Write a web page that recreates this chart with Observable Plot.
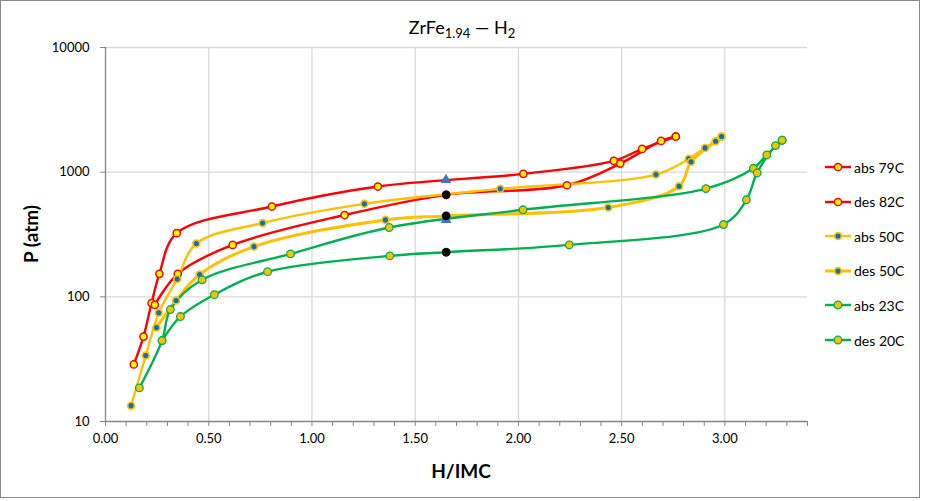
<!DOCTYPE html>
<html><head><meta charset="utf-8">
<script src="https://cdn.jsdelivr.net/npm/d3@7"></script>
<script src="https://cdn.jsdelivr.net/npm/@observablehq/plot@0.6"></script>
<style>
body{margin:0;background:#fff;font-family:Lato,"Liberation Sans",sans-serif;color:#000}
#wrap{position:relative;width:945px;height:501px;overflow:hidden;background:#fff}
#border{position:absolute;left:0;top:0;width:920px;height:498px;border:1px solid #8c8c8c;box-sizing:border-box;pointer-events:none}
#chart{position:absolute;left:0;top:0}
#title{position:absolute;left:0;width:924px;top:16px;text-align:center;font-size:18px}
#title sub{font-size:13px;vertical-align:-4px;line-height:0}
#ylab{position:absolute;left:30px;top:234px;transform:translate(-50%,-50%) rotate(-90deg);font-weight:bold;font-size:19px;white-space:nowrap}
#xlab{position:absolute;left:461px;top:470px;transform:translate(-50%,-50%);font-weight:bold;font-size:19px}
#legend{position:absolute;left:825px;top:0}
.li{position:absolute;left:0;height:20px;display:flex;align-items:center;font-size:14px;white-space:nowrap}
.li svg{margin-right:2px}
</style></head>
<body>
<div id="wrap">
  <div id="chart"></div>
  <div id="title">ZrFe<sub>1.94</sub> — H<sub>2</sub></div>
  <div id="ylab">P (atm)</div>
  <div id="xlab">H/IMC</div>
  <div id="legend"></div>
  <div id="border"></div>
</div>
<script>
// ---- data (H/IMC, P atm) ----
const abs79C_x = [0.137, 0.184, 0.223, 0.261, 0.345, 0.806, 1.319, 2.024, 2.462, 2.599, 2.762];
const abs79C_p = [28.7, 48.0, 88.9, 153, 324, 530, 767, 969, 1232, 1537, 1931];
const des82C_x = [2.762, 2.691, 2.493, 2.235, 1.650, 1.158, 0.616, 0.350, 0.239];
const des82C_p = [1931, 1782, 1172, 785, 658, 453, 261, 153, 86.3];
const abs50C_x = [0.124, 0.195, 0.258, 0.347, 0.440, 0.761, 1.254, 1.912, 2.666, 2.825, 2.904, 2.984];
const abs50C_p = [13.4, 33.8, 74.4, 139, 268, 391, 557, 735, 957, 1279, 1566, 1931];
const des50C_x = [2.984, 2.955, 2.836, 2.778, 2.435, 1.650, 1.356, 0.719, 0.456, 0.342, 0.247];
const des50C_p = [1931, 1770, 1210, 771, 520, 446, 414, 253, 151, 93.4, 56.7];
const abs23C_x = [0.164, 0.274, 0.314, 0.468, 0.896, 1.374, 2.022, 2.908, 3.138, 3.203, 3.277];
const abs23C_p = [18.6, 44.6, 79.1, 137, 221, 360, 499, 738, 1074, 1376, 1803];
const des20C_x = [3.277, 3.245, 3.156, 3.104, 2.993, 2.246, 1.650, 1.377, 0.785, 0.527, 0.363, 0.274];
const des20C_p = [1803, 1634, 986, 600, 380, 261, 228, 213, 159, 104, 69.5, 44.6];
// extra markers at H/IMC = 1.65
const black_x = [1.65, 1.65, 1.65];
const black_p = [658, 446, 228];
const tri_x = [1.649, 1.65];
const tri_p = [867, 414];
// axis ticks
const xMajor = [0, 0.5, 1, 1.5, 2, 2.5, 3];
const xMinor = [0,0.1,0.2,0.3,0.4,0.5,0.6,0.7,0.8,0.9,1,1.1,1.2,1.3,1.4,1.5,1.6,1.7,1.8,1.9,2,2.1,2.2,2.3,2.4,2.5,2.6,2.7,2.8,2.9,3,3.1,3.2,3.3,3.4];
const yTicks = [10, 100, 1000, 10000];
const seriesNames = ["abs 79C", "des 82C", "abs 50C", "des 50C", "abs 23C", "des 20C"];

const mk = (xs, ps) => xs.map((x, i) => ({x, p: ps[i]}));
const series = [
  {name: seriesNames[0], data: mk(abs79C_x, abs79C_p), line: "#FF0000", lw: 2.4, fill: "#FFFF00", ms: "#FF0000", r: 3.6, sw: 1.5},
  {name: seriesNames[1], data: mk(des82C_x, des82C_p), line: "#FF0000", lw: 2.4, fill: "#FFFF00", ms: "#FF0000", r: 3.6, sw: 1.5},
  {name: seriesNames[2], data: mk(abs50C_x, abs50C_p), line: "#FFC000", lw: 2.4, fill: "#0070C0", ms: "#FFC000", r: 3.4, sw: 1.7},
  {name: seriesNames[3], data: mk(des50C_x, des50C_p), line: "#FFC000", lw: 3.0, fill: "#0070C0", ms: "#FFC000", r: 3.4, sw: 1.7},
  {name: seriesNames[4], data: mk(abs23C_x, abs23C_p), line: "#00B050", lw: 2.4, fill: "#FFC000", ms: "#00B050", r: 3.8, sw: 1.3},
  {name: seriesNames[5], data: mk(des20C_x, des20C_p), line: "#00B050", lw: 2.4, fill: "#FFC000", ms: "#00B050", r: 3.8, sw: 1.3}
];

const marks = [
  Plot.gridX(xMajor.filter(d => d > 0), {stroke: "#d9d9d9", strokeOpacity: 1, strokeWidth: 1.3}),
  Plot.gridY(yTicks.filter(d => d > 10), {stroke: "#d9d9d9", strokeOpacity: 1, strokeWidth: 1.3}),
  Plot.ruleX([0], {stroke: "#868686", strokeWidth: 1.3}),
  Plot.ruleY([10], {stroke: "#868686", strokeWidth: 1.3}),
  Plot.axisX({ticks: xMinor, tickSize: 5, tickFormat: () => "", label: null, stroke: "#868686"}),
  Plot.axisX({ticks: xMajor, tickSize: 0, tickPadding: 12, tickFormat: d3.format(".2f"), label: null, fontSize: 13}),
  Plot.axisY({ticks: yTicks, tickSize: 5, tickPadding: 11, tickFormat: d => String(d), label: null, stroke: "#868686", fontSize: 13})
];
for (const s of series) {
  marks.push(Plot.line(s.data, {x: "x", y: "p", stroke: s.line, strokeWidth: s.lw, curve: "catmull-rom"}));
}
for (const s of series) {
  marks.push(Plot.dot(s.data, {x: "x", y: "p", r: s.r, fill: s.fill, stroke: s.ms, strokeWidth: s.sw}));
}
marks.push(Plot.dot(mk(tri_x, tri_p), {x: "x", y: "p", symbol: "triangle", r: 4, fill: "#4472C4"}));
marks.push(Plot.dot(mk(black_x, black_p), {x: "x", y: "p", r: 4.3, fill: "#000"}));

const chart = Plot.plot({
  width: 945, height: 501,
  marginLeft: 105, marginRight: 138, marginTop: 47, marginBottom: 80,
  x: {domain: [0, 3.4]},
  y: {type: "log", domain: [10, 10000]},
  style: {fontFamily: "Lato, 'Liberation Sans', sans-serif", fontSize: "13px", color: "#000", background: "transparent"},
  marks
});
document.getElementById("chart").appendChild(chart);

// legend
const leg = document.getElementById("legend");
series.forEach((s, i) => {
  const div = document.createElement("div");
  div.className = "li";
  div.style.top = (157 + i * 34.6) + "px";
  div.innerHTML = `<svg width="27" height="12"><line x1="0" y1="6" x2="26" y2="6" stroke="${s.line}" stroke-width="${s.lw}"/><circle cx="13" cy="6" r="${s.r}" fill="${s.fill}" stroke="${s.ms}" stroke-width="${s.sw}"/></svg><span>${s.name}</span>`;
  leg.appendChild(div);
});
</script>
</body></html>
